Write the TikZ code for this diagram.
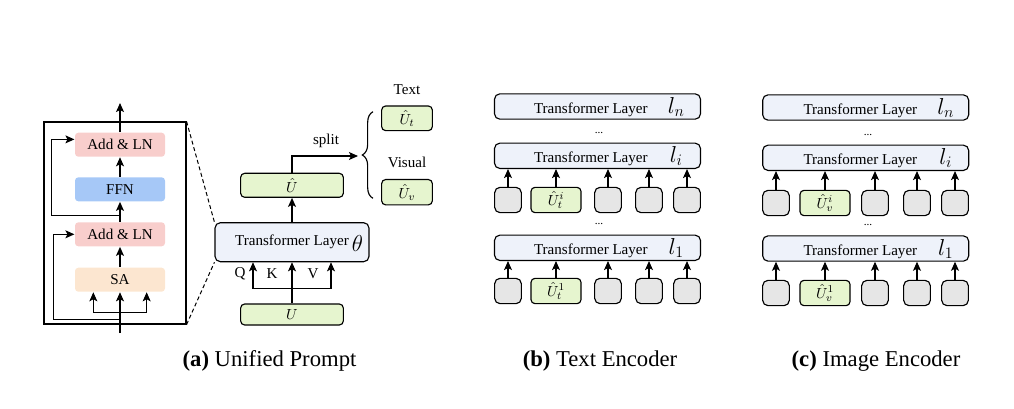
\documentclass[tikz,border=0pt]{standalone}
\usepackage{amsmath}
\usepackage{fontspec}
\setmainfont{Liberation Serif}
\usetikzlibrary{arrows.meta,decorations.pathreplacing,positioning}

\definecolor{addpink}{HTML}{F8CECC}
\definecolor{ffnblue}{HTML}{A6C8F7}
\definecolor{sapeach}{HTML}{FCE6D0}
\definecolor{promptgreen}{HTML}{E6F5CF}
\definecolor{layerblue}{HTML}{EEF2FA}
\definecolor{tokgray}{HTML}{E6E6E6}

\newcommand{\boxfont}{\fontsize{11.3}{13}\selectfont}
\newcommand{\capfont}{\fontsize{17}{20}\selectfont}
\newcommand{\bigmath}{\fontsize{17}{19}\selectfont}
\newcommand{\dotfont}{\fontsize{8.5}{9}\selectfont}

\begin{document}
\begin{tikzpicture}[
                        x=0.75pt, y=-0.75pt,
                        line width=0.85pt,
                        >={Stealth[length=6.8pt,width=6pt,inset=1.6pt]},
                        font=\boxfont,
                        sub/.style={rounded corners=2.5pt, minimum width=67.5pt, minimum height=18pt, inner sep=0pt},
                        prompt/.style={draw, fill=promptgreen, rounded corners=3pt, inner sep=0pt, minimum height=18pt},
                        layer/.style={draw, fill=layerblue, rounded corners=4pt, minimum width=154.5pt, minimum height=19pt, inner sep=0pt},
                        tok/.style={draw, fill=tokgray, rounded corners=4pt, minimum width=20pt, minimum height=19pt, inner sep=0pt},
                        caption/.style={font=\capfont, anchor=base}
                    ]
                    \useasboundingbox (0,0) rectangle (1014,408);

                    % (a) Blocks
                    \node [draw, minimum width=106.5pt, minimum height=151.5pt, inner sep=0pt] (Blk) at (115,223) {};
                    \node [sub, fill=addpink] (AddLN2) at (120,144.7) {Add \& LN};
                    \node [sub, fill=ffnblue] (FFN) at (120,189.3) {FFN};
                    \node [sub, fill=addpink] (AddLN1) at (120,234.3) {Add \& LN};
                    \node [sub, fill=sapeach] (SA) at (120,279.7) {SA};
                    \coordinate (In) at (120,333);
                    \coordinate (Out) at (120,103);
                    \coordinate (SAin) at (120,312.7);
                    \coordinate (Res1) at (120,319.3);
                    \coordinate (Res2) at (120,215.7);

                    \node [layer, minimum width=115.5pt, minimum height=29.25pt] (TL) at (292,242.2) {Transformer Layer};
                    \node [font=\bigmath] (Theta) at (357.5,243.5) {$\theta$};
                    \node (Q) at (240,274) {Q};
                    \node (K) at (272,274) {K};
                    \node (V) at (313,274) {V};
                    \coordinate (QKV) at (292,288.3);
                    \node [prompt, minimum width=77pt, minimum height=15.75pt] (U) at (292,314.5) {$U$};
                    \node [prompt, minimum width=77pt] (Uhat) at (292,185.3) {$\hat{U}$};
                    \coordinate (Split) at (358,156);
                    \node (SplitLbl) at (326,141) {split};
                    \coordinate (BrBot) at (373,198.3);
                    \coordinate (BrTop) at (373,111.7);
                    \node [prompt, minimum width=38pt, minimum height=18.5pt] (Ut) at (407,118.3) {$\hat{U}_t$};
                    \node [prompt, minimum width=38pt, minimum height=19pt] (Uv) at (407,192.2) {$\hat{U}_v$};
                    \node (TextLbl) at (407,90) {Text};
                    \node (VisLbl) at (407,162) {Visual};

                    % (a) Connections
                    \draw [->] (In) -- (SA.south);
                    \draw [->] (SAin) -| ([xshift=-20pt]SA.south);
                    \draw [->] (SAin) -| ([xshift=20pt]SA.south);
                    \draw [->] (SA) -- (AddLN1);
                    \draw [->] (AddLN1) -- (FFN);
                    \draw [->] (FFN) -- (AddLN2);
                    \draw [->] (AddLN2.north) -- (Out);
                    \draw [->] (Res1) -| ([xshift=-16pt]AddLN1.west) -- (AddLN1.west);
                    \draw [->] (Res2) -| ([xshift=-17pt,yshift=4pt]AddLN2.west) -- ([yshift=4pt]AddLN2.west);
                    \draw [dashed, dash pattern=on 3pt off 2pt, line width=0.75pt] (Blk.north east) -- (TL.north west);
                    \draw [dashed, dash pattern=on 3pt off 2pt, line width=0.75pt] (Blk.south east) -- (TL.south west);
                    \draw [->] (U) -- (TL);
                    \draw [->] (QKV) -| ([xshift=-29.25pt]TL.south);
                    \draw [->] (QKV) -| ([xshift=29.25pt]TL.south);
                    \draw [->] (TL) -- (Uhat);
                    \draw [->] (Uhat.north) |- (Split);
                    \draw [decorate, decoration={brace, amplitude=8pt}] (BrBot) -- (BrTop);

                    % (b) Blocks
                    \node [layer] (TLn_b) at (597.5,106.5) {};
                    \node [layer] (TLi_b) at (597.5,155.8) {};
                    \node [layer] (TLo_b) at (597.5,247.8) {};
                    \node [anchor=base] (TxtN_b) at ([xshift=-5pt,yshift=-5pt]TLn_b.center) {Transformer Layer};
                    \node [anchor=base] (TxtI_b) at ([xshift=-5pt,yshift=-5pt]TLi_b.center) {Transformer Layer};
                    \node [anchor=base] (TxtO_b) at ([xshift=-5pt,yshift=-5pt]TLo_b.center) {Transformer Layer};
                    \node [anchor=base, font=\bigmath] (LN_b) at ([xshift=59pt,yshift=-5pt]TLn_b.center) {$l_n$};
                    \node [anchor=base, font=\bigmath] (LI_b) at ([xshift=59pt,yshift=-5pt]TLi_b.center) {$l_i$};
                    \node [anchor=base, font=\bigmath] (LO_b) at ([xshift=59pt,yshift=-5pt]TLo_b.center) {$l_1$};
                    \node [anchor=base, font=\dotfont] (DotsA_b) at (599,133) {...};
                    \node [anchor=base, font=\dotfont] (DotsB_b) at (599,224) {...};
                    \node [tok] (Tb11) at (508,200) {};
                    \node [prompt, minimum width=37.5pt, minimum height=19pt] (Pb1) at (556,200) {$\hat{U}_t^i$};
                    \node [tok] (Tb13) at (608,200) {};
                    \node [tok] (Tb14) at (649,200) {};
                    \node [tok] (Tb15) at (687,200) {};
                    \node [tok] (Tb21) at (508,291) {};
                    \node [prompt, minimum width=37.5pt, minimum height=19pt] (Pb2) at (556,291) {$\hat{U}_t^1$};
                    \node [tok] (Tb23) at (608,291) {};
                    \node [tok] (Tb24) at (649,291) {};
                    \node [tok] (Tb25) at (687,291) {};

                    % (b) Connections
                    \draw [->] (Tb11) -- (Tb11 |- TLi_b.south);
                    \draw [->] (Pb1) -- (Pb1 |- TLi_b.south);
                    \draw [->] (Tb13) -- (Tb13 |- TLi_b.south);
                    \draw [->] (Tb14) -- (Tb14 |- TLi_b.south);
                    \draw [->] (Tb15) -- (Tb15 |- TLi_b.south);
                    \draw [->] (Tb21) -- (Tb21 |- TLo_b.south);
                    \draw [->] (Pb2) -- (Pb2 |- TLo_b.south);
                    \draw [->] (Tb23) -- (Tb23 |- TLo_b.south);
                    \draw [->] (Tb24) -- (Tb24 |- TLo_b.south);
                    \draw [->] (Tb25) -- (Tb25 |- TLo_b.south);

                    % (c) Blocks
                    \node [layer] (TLn_c) at (865.7,107.5) {};
                    \node [layer] (TLi_c) at (865.7,157.8) {};
                    \node [layer] (TLo_c) at (865.7,248.5) {};
                    \node [anchor=base] (TxtN_c) at ([xshift=-4pt,yshift=-5pt]TLn_c.center) {Transformer Layer};
                    \node [anchor=base] (TxtI_c) at ([xshift=-4pt,yshift=-5pt]TLi_c.center) {Transformer Layer};
                    \node [anchor=base] (TxtO_c) at ([xshift=-4pt,yshift=-5pt]TLo_c.center) {Transformer Layer};
                    \node [anchor=base, font=\bigmath] (LN_c) at ([xshift=60pt,yshift=-5pt]TLn_c.center) {$l_n$};
                    \node [anchor=base, font=\bigmath] (LI_c) at ([xshift=60pt,yshift=-5pt]TLi_c.center) {$l_i$};
                    \node [anchor=base, font=\bigmath] (LO_c) at ([xshift=60pt,yshift=-5pt]TLo_c.center) {$l_1$};
                    \node [anchor=base, font=\dotfont] (DotsA_c) at (868,135) {...};
                    \node [anchor=base, font=\dotfont] (DotsB_c) at (868,225) {...};
                    \node [tok] (Tc11) at (776,203) {};
                    \node [prompt, minimum width=37.5pt, minimum height=19pt] (Pc1) at (825,203) {$\hat{U}_v^i$};
                    \node [tok] (Tc13) at (875,203) {};
                    \node [tok] (Tc14) at (917,203) {};
                    \node [tok] (Tc15) at (955,203) {};
                    \node [tok] (Tc21) at (776,293) {};
                    \node [prompt, minimum width=37.5pt, minimum height=19pt] (Pc2) at (825,293) {$\hat{U}_v^1$};
                    \node [tok] (Tc23) at (875,293) {};
                    \node [tok] (Tc24) at (917,293) {};
                    \node [tok] (Tc25) at (955,293) {};

                    % (c) Connections
                    \draw [->] (Tc11) -- (Tc11 |- TLi_c.south);
                    \draw [->] (Pc1) -- (Pc1 |- TLi_c.south);
                    \draw [->] (Tc13) -- (Tc13 |- TLi_c.south);
                    \draw [->] (Tc14) -- (Tc14 |- TLi_c.south);
                    \draw [->] (Tc15) -- (Tc15 |- TLi_c.south);
                    \draw [->] (Tc21) -- (Tc21 |- TLo_c.south);
                    \draw [->] (Pc2) -- (Pc2 |- TLo_c.south);
                    \draw [->] (Tc23) -- (Tc23 |- TLo_c.south);
                    \draw [->] (Tc24) -- (Tc24 |- TLo_c.south);
                    \draw [->] (Tc25) -- (Tc25 |- TLo_c.south);

                    % Captions
                    \node [caption] (CapA) at (269.5,366) {\textbf{(a)} Unified Prompt};
                    \node [caption] (CapB) at (600,366) {\textbf{(b)} Text Encoder};
                    \node [caption] (CapC) at (876,366) {\textbf{(c)} Image Encoder};
                \end{tikzpicture}
\end{document}
